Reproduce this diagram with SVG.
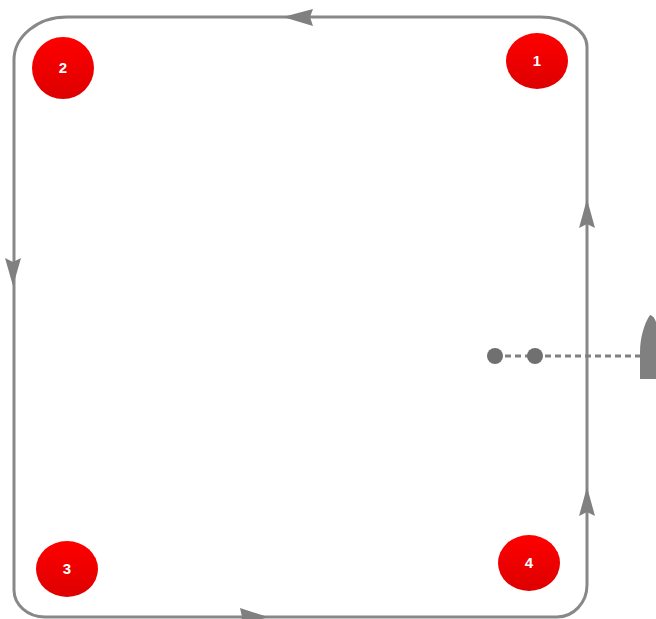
<svg xmlns="http://www.w3.org/2000/svg" width="656" height="619" viewBox="0 0 656 619">
<defs>
<linearGradient id="red" x1="0" y1="0" x2="0" y2="1">
<stop offset="0" stop-color="#ff0000"/>
<stop offset="1" stop-color="#dd0000"/>
</linearGradient>
<style>
.track{fill:none;stroke:#888;stroke-width:3}
.arrow{fill:#808080}
.node ellipse{fill:url(#red)}
.node text{fill:#fff;font-family:"Liberation Sans",Arial,sans-serif;font-weight:bold;font-size:15px;text-anchor:middle}
.dash{stroke:#808080;stroke-width:3;stroke-dasharray:6 4;fill:none}
.dot{fill:#707070}
</style>
</defs>
<rect width="656" height="619" fill="#fff"/>
<g id="connectors">
<path class="track" d="M 67 17 L 540 17 A 47 30 0 0 1 587 47 L 587 585 A 30 32 0 0 1 557 617 L 45 617 A 31 27 0 0 1 14 590 L 14 60 A 53 43 0 0 1 67 17 Z"/>
<polygon class="arrow" points="283,17 313,9 310,17 313,26"/>
<polygon class="arrow" points="13,286 5,258 13,262 21,258"/>
<polygon class="arrow" points="587,199 579,228 587,224 595,228"/>
<polygon class="arrow" points="587,487 579,516 587,512 595,516"/>
<polygon class="arrow" points="268,617 240,608 242,617 240,626"/>
<line class="dash" x1="495" y1="356" x2="640" y2="356"/>
<circle class="dot" cx="495" cy="356" r="8"/>
<circle class="dot" cx="535" cy="356" r="8"/>
<path class="arrow" d="M 650 315 C 644 324 640 338 640 352 L 640 379 L 656 379 L 656 322 Q 654 316 650 315 Z"/>
</g>
<g id="node1" class="node"><ellipse cx="537" cy="61" rx="31" ry="28"/><text x="537" y="66">1</text></g>
<g id="node2" class="node"><ellipse cx="63" cy="68" rx="31" ry="31"/><text x="63" y="73">2</text></g>
<g id="node3" class="node"><ellipse cx="67" cy="569" rx="31" ry="28"/><text x="67" y="574">3</text></g>
<g id="node4" class="node"><ellipse cx="529" cy="563" rx="31" ry="28"/><text x="529" y="568">4</text></g>
</svg>
